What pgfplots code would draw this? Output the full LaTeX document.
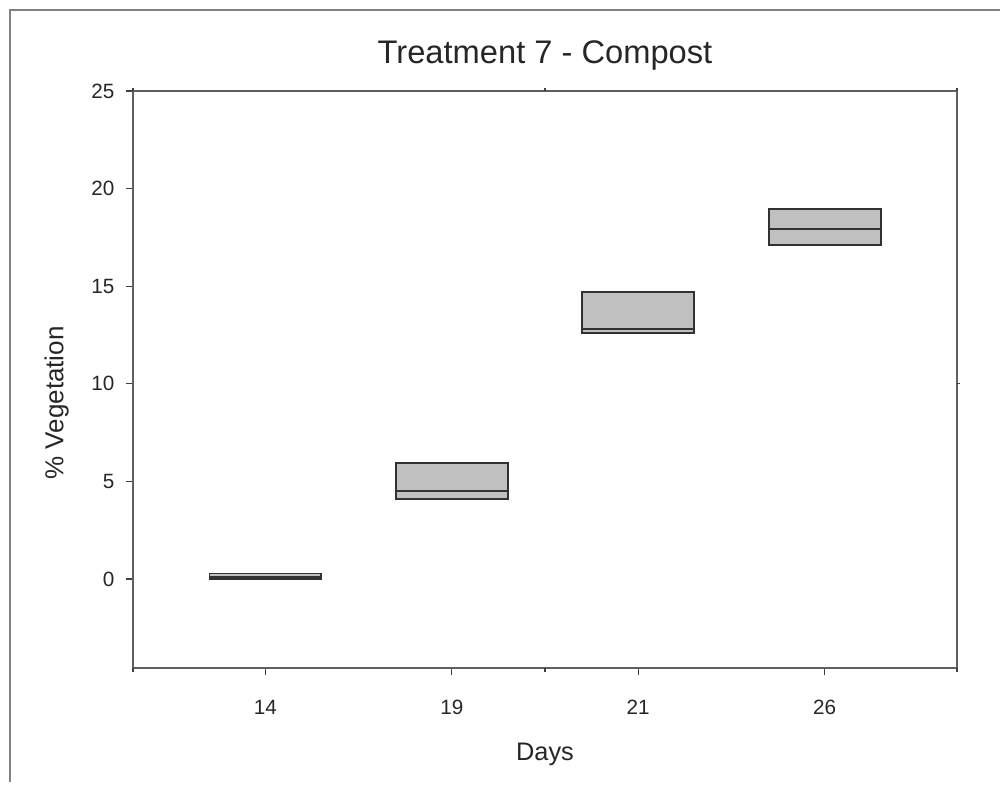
\documentclass[border=0pt]{standalone}
\usepackage{fontspec}
\setmainfont{Liberation Sans}
\usepackage{pgfplots}
\pgfplotsset{compat=1.18}
\usepgfplotslibrary{statistics}

\definecolor{boxfill}{RGB}{192,192,192}
\definecolor{boxedge}{RGB}{50,50,50}
\definecolor{axisgray}{RGB}{95,95,95}
\definecolor{framegray}{RGB}{130,130,130}

\begin{document}
\begin{tikzpicture}
% 1 px of the reference = 0.75pt
\useasboundingbox (0,0) rectangle (750pt,588.75pt);
\draw[framegray, line width=1.1pt] (7.5pt,2pt) -- (7.5pt,581.25pt) -- (750pt,581.25pt);

\begin{axis}[
  at={(99.75pt,87.75pt)}, anchor=south west,
  scale only axis,
  width=618pt, height=432.75pt,
  xmin=0.29, xmax=4.71,
  ymin=-4.56, ymax=25,
  xtick={1,2,3,4},
  xticklabels={14,19,21,26},
  ytick={0,5,10,15,20,25},
  tick pos=left,
  tick align=outside,
  major tick length=5.5pt,
  axis line style={axisgray, line width=1.4pt},
  every tick/.style={black!75, line width=0.9pt},
  tick label style={font=\fontsize{15.5}{18}\selectfont, text=black!85},
  /pgf/number format/assume math mode=true,
  xticklabel style={yshift=-15pt},
  yticklabel style={xshift=-5pt},
  clip=false,
  boxplot/draw direction=y,
  boxplot/box extend=0.6,
  boxplot/whisker extend=0,
]
  \addplot[draw=boxedge, fill=boxfill, line width=1.4pt,
    boxplot prepared={lower whisker=0, lower quartile=0,
      median=0.12, upper quartile=0.28, upper whisker=0.28, draw position=1}]
    coordinates {};
  \addplot[draw=boxedge, fill=boxfill, line width=1.4pt,
    boxplot prepared={lower whisker=4.11, lower quartile=4.11,
      median=4.52, upper quartile=5.96, upper whisker=5.96, draw position=2}]
    coordinates {};
  \addplot[draw=boxedge, fill=boxfill, line width=1.4pt,
    boxplot prepared={lower whisker=12.60, lower quartile=12.60,
      median=12.81, upper quartile=14.72, upper whisker=14.72, draw position=3}]
    coordinates {};
  \addplot[draw=boxedge, fill=boxfill, line width=1.4pt,
    boxplot prepared={lower whisker=17.11, lower quartile=17.11,
      median=17.95, upper quartile=18.94, upper whisker=18.94, draw position=4}]
    coordinates {};
  % small marks on the frame
  \draw[black!75, line width=1pt] (axis cs:2.5,25) -- ([yshift=2pt]axis cs:2.5,25);
  \draw[black!75, line width=1pt] (axis cs:0.29,25) -- ([yshift=2pt]axis cs:0.29,25);
  \draw[black!75, line width=1pt] (axis cs:4.71,25) -- ([yshift=2pt]axis cs:4.71,25);
  \draw[black!75, line width=1pt] (axis cs:4.71,10) -- ([xshift=2pt]axis cs:4.71,10);
  \draw[black!75, line width=1pt] (axis cs:2.5,-4.56) -- ([yshift=-3pt]axis cs:2.5,-4.56);
  \draw[black!75, line width=1pt] (axis cs:0.29,-4.56) -- ([yshift=-3pt]axis cs:0.29,-4.56);
  \draw[black!75, line width=1pt] (axis cs:4.71,-4.56) -- ([yshift=-3pt]axis cs:4.71,-4.56);
\end{axis}

\node[anchor=base, font=\fontsize{24.5}{29}\selectfont, text=black!85]
  at (408.75pt,540.75pt) {Treatment 7 - Compost};
\node[anchor=base, font=\fontsize{19}{23}\selectfont, text=black!85]
  at (408.75pt,18pt) {Days};
\node[anchor=base, rotate=90, font=\fontsize{19.5}{23}\selectfont, text=black!85]
  at (47.5pt,286.5pt) {\% Vegetation};
\end{tikzpicture}
\end{document}
